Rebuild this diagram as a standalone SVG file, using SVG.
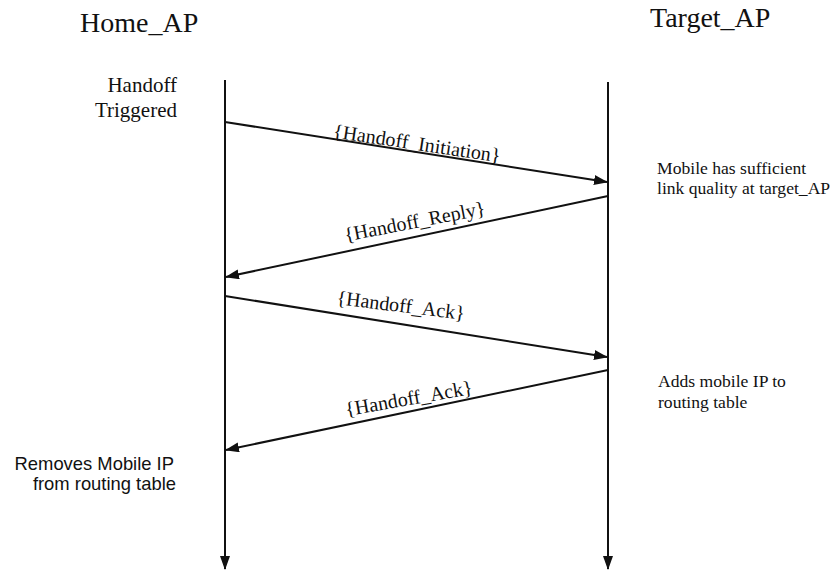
<svg xmlns="http://www.w3.org/2000/svg" width="835" height="572" viewBox="0 0 835 572">
<style>
.hdr{font-family:"Liberation Serif","Times New Roman",serif;font-size:28px;fill:#111}
.lbl{font-family:"Liberation Serif","Times New Roman",serif;font-size:20px;fill:#111}
.note{font-family:"Liberation Serif","Times New Roman",serif;font-size:17.6px;fill:#111}
.side{font-family:"Liberation Serif","Times New Roman",serif;font-size:21px;fill:#111}
.sans{font-family:"Liberation Sans",Arial,sans-serif;font-size:18.4px;fill:#111}
.ln{stroke:#111;stroke-width:2;fill:none}
</style>
<defs>
<marker id="ah" markerUnits="userSpaceOnUse" markerWidth="14" markerHeight="10" refX="13" refY="5" orient="auto">
<path d="M0,0 L14,5 L0,10 Z" fill="#111"/>
</marker>
</defs>
<g id="home_ap">
<text class="hdr" x="80" y="32">Home_AP</text>
<line class="ln" x1="225" y1="80" x2="225" y2="569" marker-end="url(#ah)"/>
</g>
<g id="target_ap">
<text class="hdr" x="650" y="27">Target_AP</text>
<line class="ln" x1="608" y1="82" x2="608" y2="569" marker-end="url(#ah)"/>
</g>
<g id="note_trigger">
<text class="side" x="177" y="92" text-anchor="end">Handoff</text>
<text class="side" x="177" y="117" text-anchor="end">Triggered</text>
</g>
<g id="note_quality">
<text class="note" x="657" y="174">Mobile has sufficient</text>
<text class="note" x="657" y="194">link quality at target_AP</text>
</g>
<g id="note_adds">
<text class="note" x="658" y="387">Adds mobile IP to</text>
<text class="note" x="658" y="408">routing table</text>
</g>
<g id="note_removes">
<text class="sans" x="174" y="470" text-anchor="end">Removes Mobile IP</text>
<text class="sans" x="176" y="490" text-anchor="end">from routing table</text>
</g>
<g id="connectors">
<line class="ln" x1="225" y1="122" x2="607" y2="182" marker-end="url(#ah)"/>
<line class="ln" x1="608" y1="196" x2="226" y2="277" marker-end="url(#ah)"/>
<line class="ln" x1="225" y1="296" x2="607" y2="357" marker-end="url(#ah)"/>
<line class="ln" x1="608" y1="370" x2="226" y2="450" marker-end="url(#ah)"/>
<text class="lbl" x="416" y="150" text-anchor="middle" transform="rotate(8.5 416 150)">{Handoff_Initiation}</text>
<text class="lbl" x="416" y="228" text-anchor="middle" transform="rotate(-11 416 228)">{Handoff_Reply}</text>
<text class="lbl" x="400" y="312" text-anchor="middle" transform="rotate(7 400 312)">{Handoff_Ack}</text>
<text class="lbl" x="410" y="405" text-anchor="middle" transform="rotate(-10 410 405)">{Handoff_Ack}</text>
</g>
</svg>
